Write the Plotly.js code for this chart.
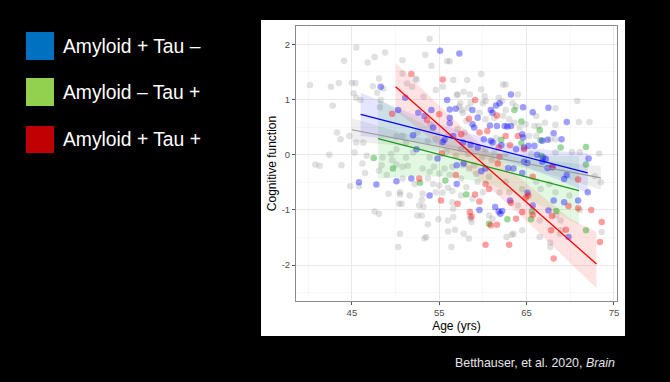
<!DOCTYPE html>
<html>
<head>
<meta charset="utf-8">
<script src="https://cdn.plot.ly/plotly-3.0.1.min.js"></script>
<style>
  html, body { margin: 0; padding: 0; background: #000; }
  #chart { width: 670px; height: 382px; }
</style>
</head>
<body>
<div id="chart"></div>
<script>
// ---------- DATA ----------
const legendLabels = ["Amyloid + Tau \u2013", "Amyloid \u2013 Tau +", "Amyloid + Tau +"];
const legendColors = ["#0070C0", "#92D050", "#C00000"];
const xTickVals = [45, 55, 65, 75];
const yTickVals = [-2, -1, 0, 1, 2];
const xTitle = "Age (yrs)";
const yTitle = "Cognitive function";
const citation = "Betthauser, et al. 2020, <i>Brain</i>";

// grey: all other participants
const greyAge = [40.2,42.6,43.5,44.1,42.8,45.0,45.4,45.5,46.8,47.6,48.8,47.4,45.2,45.5,48.1,48.6,50.8,50.8,52.3,53.4,53.9,55.9,56.2,54.1,43.3,43.7,44.7,45.5,45.3,42.4,46.7,50.8,51.2,52.5,53.7,54.6,56.0,56.9,50.1,49.5,48.5,51.2,52.0,53.9,46.3,
  54.6,53.2,51.9,52.4,51.3,57.4,57.6,55.4,57.0,56.6,46.0,48.3,48.2,47.9,49.6,50.1,
  58.2,59.8,62.3,62.6,59.8,57.1,57.8,58.5,60.2,60.3,61.8,62.2,64.0,63.4,63.8,57.3,58.3,59.6,60.0,62.6,66.1,68.3,71.0,72.2,70.8,67.1,68.3,66.4,65.9,63.6,64.2,58.1,67.7,73.3,70.2,71.1,57.1,57.9,57.7,58.6,60.3,61.3,62.3,63.0,64.9,65.3,66.1,68.3,57.5,58.3,60.3,61.3,62.6,65.5,68.3,
  40.8,41.3,43.8,46.2,46.5,44.8,45.8,49.0,48.1,49.2,50.5,50.5,51.6,53.1,53.0,52.7,53.2,50.4,50.7,47.6,48.1,52.5,53.0,53.7,50.5,53.5,53.3,50.3,54.9,56.0,56.0,56.8,56.4,56.5,56.6,56.6,54.6,55.4,56.5,48.4,50.1,50.8,51.4,53.1,53.9,54.4,55.0,55.6,56.2,56.5,53.7,50.8,52.2,54.3,55.0,56.0,
  72.8,73.5,58.4,60.7,61.1,58.7,58.6,62.7,63.3,64.5,66.5,67.7,68.9,73.6,68.4,68.9,57.7,58.4,59.0,57.5,58.1,59.4,60.7,62.6,63.0,64.5,66.1,66.6,67.6,68.3,69.9,57.5,58.8,60.0,61.9,64.0,
  67.7,57.8,58.5,63.5,66.5,68.8,71.1,59.2,61.0,54.0,55.8,59.9,61.5];
const greyCog = [1.26,1.23,1.30,1.70,0.89,1.30,1.30,1.94,1.67,1.77,1.85,1.24,1.11,1.03,1.38,1.20,1.71,1.47,1.38,1.81,2.10,1.69,1.69,1.61,0.40,0.28,0.34,0.22,0.04,0.00,-0.02,0.34,0.22,0.40,0.25,0.28,0.34,-0.02,0.10,0.01,-0.05,-0.05,0.04,-0.05,0.22,
  1.17,1.05,1.23,1.35,1.29,0.93,0.81,1.23,1.08,1.35,0.99,0.99,0.86,1.12,-0.10,0.33,
  1.35,1.46,1.27,1.27,1.18,1.09,1.14,1.09,1.06,0.97,1.03,0.97,1.09,0.93,0.87,0.87,0.85,0.76,0.93,0.81,0.70,0.84,0.59,0.59,0.97,0.58,0.54,0.52,0.52,0.58,0.49,0.61,0.28,0.02,0.05,0.05,0.46,0.40,0.76,0.94,0.64,0.67,0.70,0.64,0.55,0.34,0.34,0.28,0.10,0.01,0.10,0.04,0.01,0.01,0.04,
  -0.18,-0.20,-0.19,-0.16,-0.33,-0.57,-0.57,-0.37,-0.29,-0.71,-0.68,-0.72,-0.74,-0.71,-0.82,-0.92,-0.94,-0.89,-0.89,-1.03,-1.07,-1.10,-1.10,-1.26,-1.43,-1.49,-1.52,-1.67,-1.17,-1.19,-1.39,-1.36,-1.67,-0.86,-1.13,-0.98,-0.68,-0.69,-0.66,-0.19,-0.18,-0.22,-0.20,-0.25,-0.31,-0.22,-0.34,-0.25,-0.37,-0.22,-0.43,-0.43,-0.53,-0.53,-0.56,-0.60,
  -0.39,-0.50,-1.52,-1.10,-1.16,-1.22,-1.16,-1.49,-1.45,-1.37,-1.19,-1.59,-1.37,-1.40,-1.10,-1.19,-0.19,-0.25,-0.19,-0.43,-0.59,-0.49,-0.40,-0.49,-0.68,-0.62,-0.49,-0.62,-0.53,-0.68,-0.74,-0.74,-0.80,-0.68,-0.68,-0.92,
  -1.67,-1.43,-1.12,-1.43,-1.49,-1.43,-1.00,-0.35,-0.10,0.55,0.05,-0.05,0.30];

// blue: Amyloid + Tau -
const blueAge = [48.3,50.3,51.1,52.0,52.4,52.6,53.3,54.1,54.3,55.4,55.6,54.8,55.9,56.2,56.2,56.2,56.6,56.9,55.1,
  57.3,63.2,61.5,61.9,58.8,60.9,61.1,64.6,65.7,67.5,69.6,63.2,62.8,62.5,60.8,61.6,58.8,59.0,59.4,60.1,60.9,64.5,64.6,68.1,67.4,66.8,69.0,65.9,65.2,64.7,62.1,61.1,63.8,66.2,66.9,67.2,72.1,58.6,59.4,57.7,
  45.8,47.8,50.1,51.8,53.9,57.0,
  64.7,65.1,66.8,67.4,68.0,59.8,60.3,62.9,63.5,64.5,69.3,69.6,72.0,59.6,61.4,61.8,62.2,62.0,63.1,65.1,65.7,68.1,69.3,67.5,70.9,69.8,57.0,57.8];
const blueCog = [1.23,0.81,1.03,0.35,0.10,0.76,0.70,0.81,0.49,0.23,0.27,-0.07,0.99,0.82,0.67,0.57,0.34,0.83,1.88,
  1.83,1.09,0.89,0.93,0.81,0.81,0.76,0.86,0.77,0.85,0.59,0.52,0.51,0.52,0.53,0.52,0.55,0.49,0.67,0.28,0.25,0.37,0.31,0.39,0.27,0.25,0.28,0.16,0.16,0.13,0.17,0.22,0.10,0.00,-0.05,-0.08,-0.07,0.18,0.13,0.22,
  -0.50,-0.54,-0.48,-0.43,-0.74,-0.53,
  -0.13,-0.15,-0.13,-0.24,-0.23,-0.30,-0.25,-0.24,-0.25,-0.33,-0.44,-0.37,-0.68,-1.00,-0.95,-1.03,-1.02,-1.07,-0.83,-0.69,-0.92,-0.83,-0.86,-1.01,-0.83,-1.49,-0.19,-0.16];

// green: Amyloid - Tau +
const greenAge = [47.5,63.6,64.4,66.5,66.6,68.9,64.4,62.1,66.7,71.8,49.7,52.8,55.7,71.8,58.1,62.8,60.7,65.5,68.4,71.8,65.6];
const greenCog = [-0.06,0.81,0.60,0.44,0.26,0.13,0.21,0.27,-0.02,0.14,-0.25,-0.51,-0.47,-0.18,-0.72,-1.17,-1.25,-1.17,-1.02,-1.37,-1.03];

// red: Amyloid + Tau +
const redAge = [51.8,55.4,49.6,55.0,55.3,59.1,61.6,58.4,59.6,60.5,62.6,64.0,63.1,61.8,64.7,61.9,57.5,52.7,55.2,
  61.7,67.9,60.3,60.7,65.7,70.9,56.9,59.1,57.1,59.6,58.5,58.7,63.2,64.5,63.8,60.9,61.6,60.3,63.0,65.7,65.2,64.9,69.8,67.9,70.9,72.4,73.6,73.4,67.8,69.5,68.1,53.6];
const redCog = [1.46,1.36,0.74,0.73,0.02,0.99,0.71,0.65,0.40,0.43,0.34,0.34,0.17,0.13,0.10,-0.04,0.37,-0.43,-0.83,
  -0.16,-0.22,-0.53,-0.62,-0.40,-0.45,-0.37,-0.72,-0.89,-0.85,-1.04,-1.12,-0.87,-1.04,-1.16,-1.28,-1.27,-1.63,-1.63,-1.09,-0.74,-0.78,-0.93,-1.11,-0.97,-1.00,-1.22,-1.58,-1.37,-1.36,-1.88,0.63];

// linear fits
const greyFitX = [45, 73.5], greyFitY = [0.45, -0.42];
const blueFitX = [46, 72], blueFitY = [0.73, -0.33];
const greenFitX = [48, 71], greenFitY = [0.29, -0.65];
const redFitX = [50, 73], redFitY = [1.23, -1.98];

// confidence bands
const greyBandX = [45, 50, 55, 60, 65, 70, 73.5];
const greyBandLo = [0.24, 0.17, 0.06, -0.08, -0.25, -0.46, -0.63];
const greyBandHi = [0.66, 0.43, 0.22, 0.06, -0.07, -0.16, -0.21];
const blueBandX = [46, 50, 55, 60, 65, 69, 72];
const blueBandLo = [0.34, 0.28, 0.17, 0.01, -0.23, -0.48, -0.69];
const blueBandHi = [1.12, 0.86, 0.55, 0.31, 0.13, 0.06, 0.03];
const greenBandX = [48, 52, 56, 60, 64, 68, 71];
const greenBandLo = [-0.43, -0.39, -0.40, -0.50, -0.73, -1.03, -1.28];
const greenBandHi = [1.01, 0.65, 0.32, 0.10, -0.01, -0.03, -0.02];
const redBandX = [50, 55, 60, 65, 70, 73];
const redBandLo = [0.80, 0.17, -0.49, -1.20, -1.96, -2.42];
const redBandHi = [1.66, 0.89, 0.15, -0.52, -1.16, -1.40];

// ---------- STYLE ----------
const FONT = "Liberation Sans, Arial, Helvetica, sans-serif";
function band(x, lo, hi, fill) {
  return [
    {x: x, y: lo, mode: "lines", line: {width: 0}, hoverinfo: "skip", showlegend: false},
    {x: x, y: hi, mode: "lines", line: {width: 0}, fill: "tonexty", fillcolor: fill, hoverinfo: "skip", showlegend: false}
  ];
}
function pts(x, y, color) {
  return {x: x, y: y, mode: "markers", type: "scatter", showlegend: false,
          marker: {size: 6.5, color: color, line: {width: 0}}};
}
function fit(x, y, color, w) {
  return {x: x, y: y, mode: "lines", showlegend: false, line: {color: color, width: w}};
}

const traces = [
  pts(greyAge, greyCog, "rgba(128,128,128,0.24)"),
  ...band(greyBandX, greyBandLo, greyBandHi, "rgba(150,150,150,0.16)"),
  ...band(greenBandX, greenBandLo, greenBandHi, "rgba(0,190,0,0.11)"),
  ...band(blueBandX, blueBandLo, blueBandHi, "rgba(40,40,255,0.12)"),
  ...band(redBandX, redBandLo, redBandHi, "rgba(255,40,40,0.13)"),
  pts(greenAge, greenCog, "rgba(20,160,20,0.42)"),
  pts(blueAge, blueCog, "rgba(0,0,255,0.38)"),
  pts(redAge, redCog, "rgba(255,0,0,0.38)"),
  fit(greyFitX, greyFitY, "#9a9a9a", 1.1),
  fit(greenFitX, greenFitY, "#1a9a1a", 1.2),
  fit(blueFitX, blueFitY, "#0000ff", 1.2),
  fit(redFitX, redFitY, "#ff0000", 1.3)
];

// pixel -> paper helpers (plot area: x 296..617, y 26..301)
const L = 296, R = 617, T = 26, B = 301;
const px = v => (v - L) / (R - L);
const py = v => (B - v) / (B - T);

const shapes = [
  {type: "rect", xref: "paper", yref: "paper", x0: px(261), x1: px(625), y0: py(336), y1: py(20),
   fillcolor: "#ffffff", line: {width: 0}, layer: "below"}
];
const legendY = [[32, 60], [78, 106], [126, 153]];
const annotations = [];
legendLabels.forEach((lab, i) => {
  shapes.push({type: "rect", xref: "paper", yref: "paper", x0: px(26), x1: px(54),
    y0: py(legendY[i][1]), y1: py(legendY[i][0]), fillcolor: legendColors[i], line: {width: 0}});
  annotations.push({xref: "paper", yref: "paper", x: px(61), y: py((legendY[i][0] + legendY[i][1]) / 2),
    xanchor: "left", yanchor: "middle", showarrow: false, text: lab,
    font: {family: FONT, size: 19.3, color: "#ffffff"}});
});
annotations.push({xref: "paper", yref: "paper", x: px(617), y: py(363), xanchor: "right", yanchor: "middle",
  showarrow: false, text: citation, font: {family: FONT, size: 12.4, color: "#e6e6e6"}});

const layout = {
  width: 670, height: 382,
  margin: {l: L, r: 670 - R, t: T, b: 382 - B, pad: 0},
  paper_bgcolor: "#000000",
  plot_bgcolor: "#ffffff",
  font: {family: FONT},
  showlegend: false,
  xaxis: {
    range: [38.6, 75.35], tickmode: "array", tickvals: xTickVals, ticktext: xTickVals.map(String),
    showgrid: true, gridcolor: "#e9e9e9", gridwidth: 1, zeroline: false,
    minor: {tick0: 40, dtick: 10, showgrid: true, gridcolor: "#f3f3f3", gridwidth: 0.6, ticklen: 0},
    showline: true, linecolor: "#8a8a8a", linewidth: 1, mirror: true,
    ticks: "outside", ticklen: 3, tickcolor: "#555", tickwidth: 1,
    tickfont: {family: FONT, size: 9.5, color: "#4d4d4d"},
    title: {text: xTitle, font: {family: FONT, size: 12, color: "#000"}, standoff: 4},
    automargin: false
  },
  yaxis: {
    range: [-2.65, 2.33], tickmode: "array", tickvals: yTickVals, ticktext: yTickVals.map(String),
    showgrid: true, gridcolor: "#e9e9e9", gridwidth: 1, zeroline: false,
    minor: {tick0: -2.5, dtick: 1, showgrid: true, gridcolor: "#f3f3f3", gridwidth: 0.6, ticklen: 0},
    showline: true, linecolor: "#8a8a8a", linewidth: 1, mirror: true,
    ticks: "outside", ticklen: 3, tickcolor: "#555", tickwidth: 1,
    tickfont: {family: FONT, size: 9.5, color: "#4d4d4d"},
    title: {text: yTitle, font: {family: FONT, size: 12, color: "#000"}, standoff: 2},
    automargin: false
  },
  shapes: shapes,
  annotations: annotations
};

Plotly.newPlot("chart", traces, layout, {displayModeBar: false, staticPlot: true});
</script>
</body>
</html>
